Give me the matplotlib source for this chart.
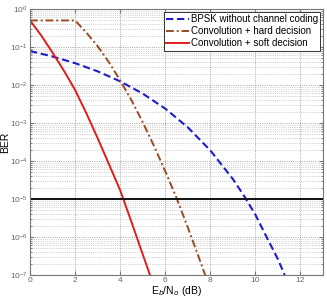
import numpy as np
import matplotlib
matplotlib.use("Agg")
import matplotlib.pyplot as plt
from matplotlib.ticker import LogLocator, FixedLocator

plt.rcParams["font.family"] = ["Liberation Sans", "DejaVu Sans"]
plt.rcParams["mathtext.fontset"] = "custom"
plt.rcParams["mathtext.rm"] = "Liberation Sans"

# Eb/N0 (dB) and BER
snr_bpsk = [0, 1, 2, 3, 4, 5, 6, 7, 8, 9, 9.5, 10, 10.5, 11, 11.3]
ber_bpsk = [7.86e-2, 5.63e-2, 3.75e-2, 2.29e-2, 1.25e-2, 5.95e-3, 2.39e-3,
            7.7e-4, 1.9e-4, 3.36e-5, 1.2e-5, 3.87e-6, 9.9e-7, 2.6e-7, 1.0e-7]

snr_hard = [0, 1, 2, 2.5, 3, 3.5, 4, 4.5, 5, 5.5, 6, 6.5, 7, 7.5, 7.8]
ber_hard = [0.5, 0.5, 0.5, 0.24, 0.105, 0.04, 1.32e-2, 4.0e-3, 1.05e-3,
            2.5e-4, 5.4e-5, 1.07e-5, 1.8e-6, 2.8e-7, 9e-8]

snr_soft = [0, 0.5, 1, 1.5, 2, 2.5, 3, 3.5, 4, 4.5, 5, 5.35]
ber_soft = [0.5, 0.2, 7.1e-2, 2.4e-2, 7.4e-3, 1.8e-3, 4.0e-4, 8.3e-5,
            1.7e-5, 2.5e-6, 3.5e-7, 9e-8]

ber_target = 1e-5

fig = plt.figure(figsize=(3.27, 2.97), dpi=100)
ax = fig.add_axes([30 / 327, 1 - 275 / 297, 293 / 327, 266 / 297])

ax.semilogy(snr_bpsk, ber_bpsk, "--", color="#1c1ccc", lw=1.5,
            dashes=(3.5, 1.8), label="BPSK without channel coding")
ax.semilogy(snr_hard, ber_hard, "-.", color="#9a4a22", lw=1.4,
            dashes=(4, 1.5, 1, 1.5), label="Convolution + hard decision")
ax.semilogy(snr_soft, ber_soft, "-", color="#e01c1c", lw=1.4,
            label="Convolution + soft decision")
ax.axhline(ber_target, color="#111111", lw=1.4)

ax.set_xlim(0, 13)
ax.set_ylim(1e-7, 1)
ax.xaxis.set_major_locator(FixedLocator([0, 2, 4, 6, 8, 10, 12]))
ax.yaxis.set_major_locator(LogLocator(base=10, numticks=10))
ax.yaxis.set_minor_locator(LogLocator(base=10, subs=np.arange(2, 10), numticks=20))
ax.yaxis.set_minor_formatter(plt.NullFormatter())

ax.grid(True, which="major", ls=":", color="#888888", lw=0.6)
ax.grid(True, which="minor", axis="y", ls=":", color="#aaaaaa", lw=0.5)
ax.set_axisbelow(True)

ax.tick_params(which="both", direction="in", top=True, right=True,
               labelsize=6, labelcolor="#666666", color="#777777")
ax.tick_params(which="major", length=3, pad=1.5)
ax.tick_params(which="minor", length=1.5)
for s in ax.spines.values():
    s.set_color("#777777")
    s.set_linewidth(0.8)

ax.set_xlabel(r"E$_b$/N$_o$ (dB)", fontsize=7.5, labelpad=0)
ax.set_ylabel("BER", fontsize=7.5, labelpad=0)

leg = ax.legend(loc="upper right", fontsize=7, handlelength=2.3,
                handletextpad=0.2, borderpad=0.25, labelspacing=0.2,
                borderaxespad=0.3, fancybox=False, framealpha=1)
leg.get_frame().set_edgecolor("#333333")
leg.get_frame().set_linewidth(0.7)

plt.savefig("out.png", dpi=100)
